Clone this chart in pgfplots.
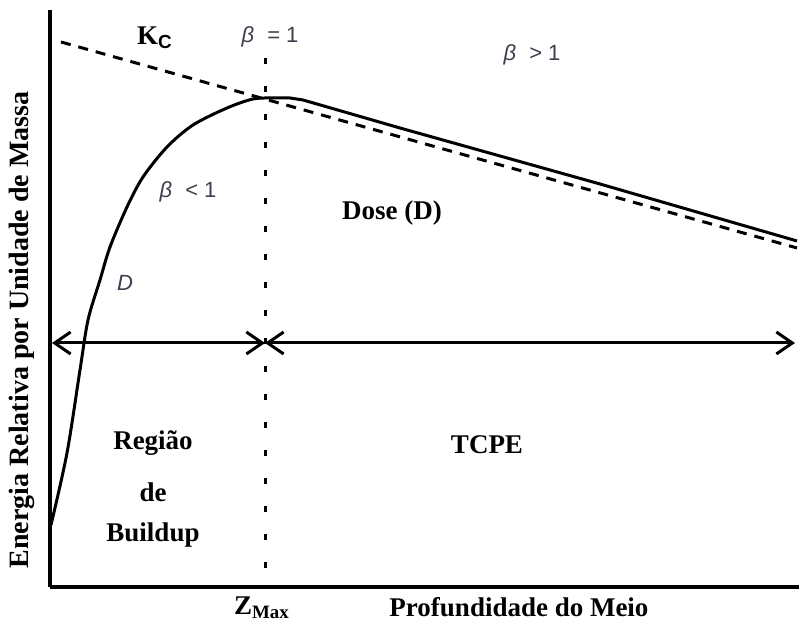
\documentclass[border=0pt]{standalone}
\usepackage{pgfplots}
\pgfplotsset{compat=1.18}
\usepackage{fontspec}
\setmainfont{Liberation Serif}
\newfontfamily\lsans{Liberation Sans}
\usetikzlibrary{arrows.meta}
\definecolor{lbl}{RGB}{62,64,78}

\begin{document}
\begin{tikzpicture}[>={Straight Barb[length=8pt,width=11pt]}]
\begin{axis}[
  scale only axis, width=374.5pt, height=288.5pt,
  xmin=50, xmax=799, ymin=0, ymax=577,
  axis x line=bottom, axis y line=left,
  axis line style={-, line width=1.6pt},
  xtick=\empty, ytick=\empty,
  clip=false,
  every node/.style={inner sep=0pt, anchor=center},
  font=\fontsize{13.5}{16}\selectfont\bfseries,
]
% Kerma de colisao (K_C)
\addplot[black, line width=1.5pt, dash pattern=on 5pt off 4pt]
  coordinates {(61,545) (797,339)};
% Curva de dose em profundidade: buildup
\addplot[black, line width=1.5pt, smooth, tension=0.5]
  coordinates {(51,62) (67,134) (80,217) (88,267)
               (100,307) (110,340) (127,380)
               (143,410) (167,440) (193,462)
               (227,479) (253,488) (273,489)};
% Curva de dose em profundidade: regiao de TCPE
\addplot[black, line width=1.5pt, line join=round]
  coordinates {(273,489) (290,489) (303,487) (400,459) (600,403) (797,346)};
% Profundidade de dose maxima
\addplot[black, line width=1.5pt, dash pattern=on 3pt off 11pt]
  coordinates {(265,529) (265,0)};
% Regioes de buildup e TCPE
\addplot[black, line width=1.5pt, <->] coordinates {(52,244) (265,244)};
\addplot[black, line width=1.5pt, <->] coordinates {(265,244) (795,244)};

\node at (axis cs:155,549) {K\textsubscript{\lsans\bfseries C}};
\node[font=\lsans\fontsize{11}{13}\selectfont, text=lbl] at (axis cs:270,550) {\textit{β}\hspace{0.6em}= 1};
\node[font=\lsans\fontsize{11}{13}\selectfont, text=lbl] at (axis cs:532,532) {\textit{β}\hspace{0.6em}> 1};
\node[font=\lsans\fontsize{11}{13}\selectfont, text=lbl] at (axis cs:188,395) {\textit{β}\hspace{0.6em}< 1};
\node[font=\lsans\fontsize{11}{13}\selectfont, text=lbl] at (axis cs:125,304) {\textit{D}};
\node at (axis cs:392,374) {Dose (D)};
\node at (axis cs:153,144) {Região};
\node at (axis cs:153,95) {de};
\node at (axis cs:153,52) {Buildup};
\node at (axis cs:487,142) {TCPE};
\node at (axis cs:262,-21) {Z\textsubscript{Max}};
\node at (axis cs:519,-20) {Profundidade do Meio};
\node[rotate=90, font=\fontsize{14}{16}\selectfont\bfseries] at (axis cs:22,257) {Energia Relativa por Unidade de Massa};

\coordinate (bl) at (axis cs:0,-38);
\coordinate (tr) at (axis cs:799,587);
\end{axis}
\pgfresetboundingbox
\path[use as bounding box] (bl) rectangle (tr);
\end{tikzpicture}
\end{document}
